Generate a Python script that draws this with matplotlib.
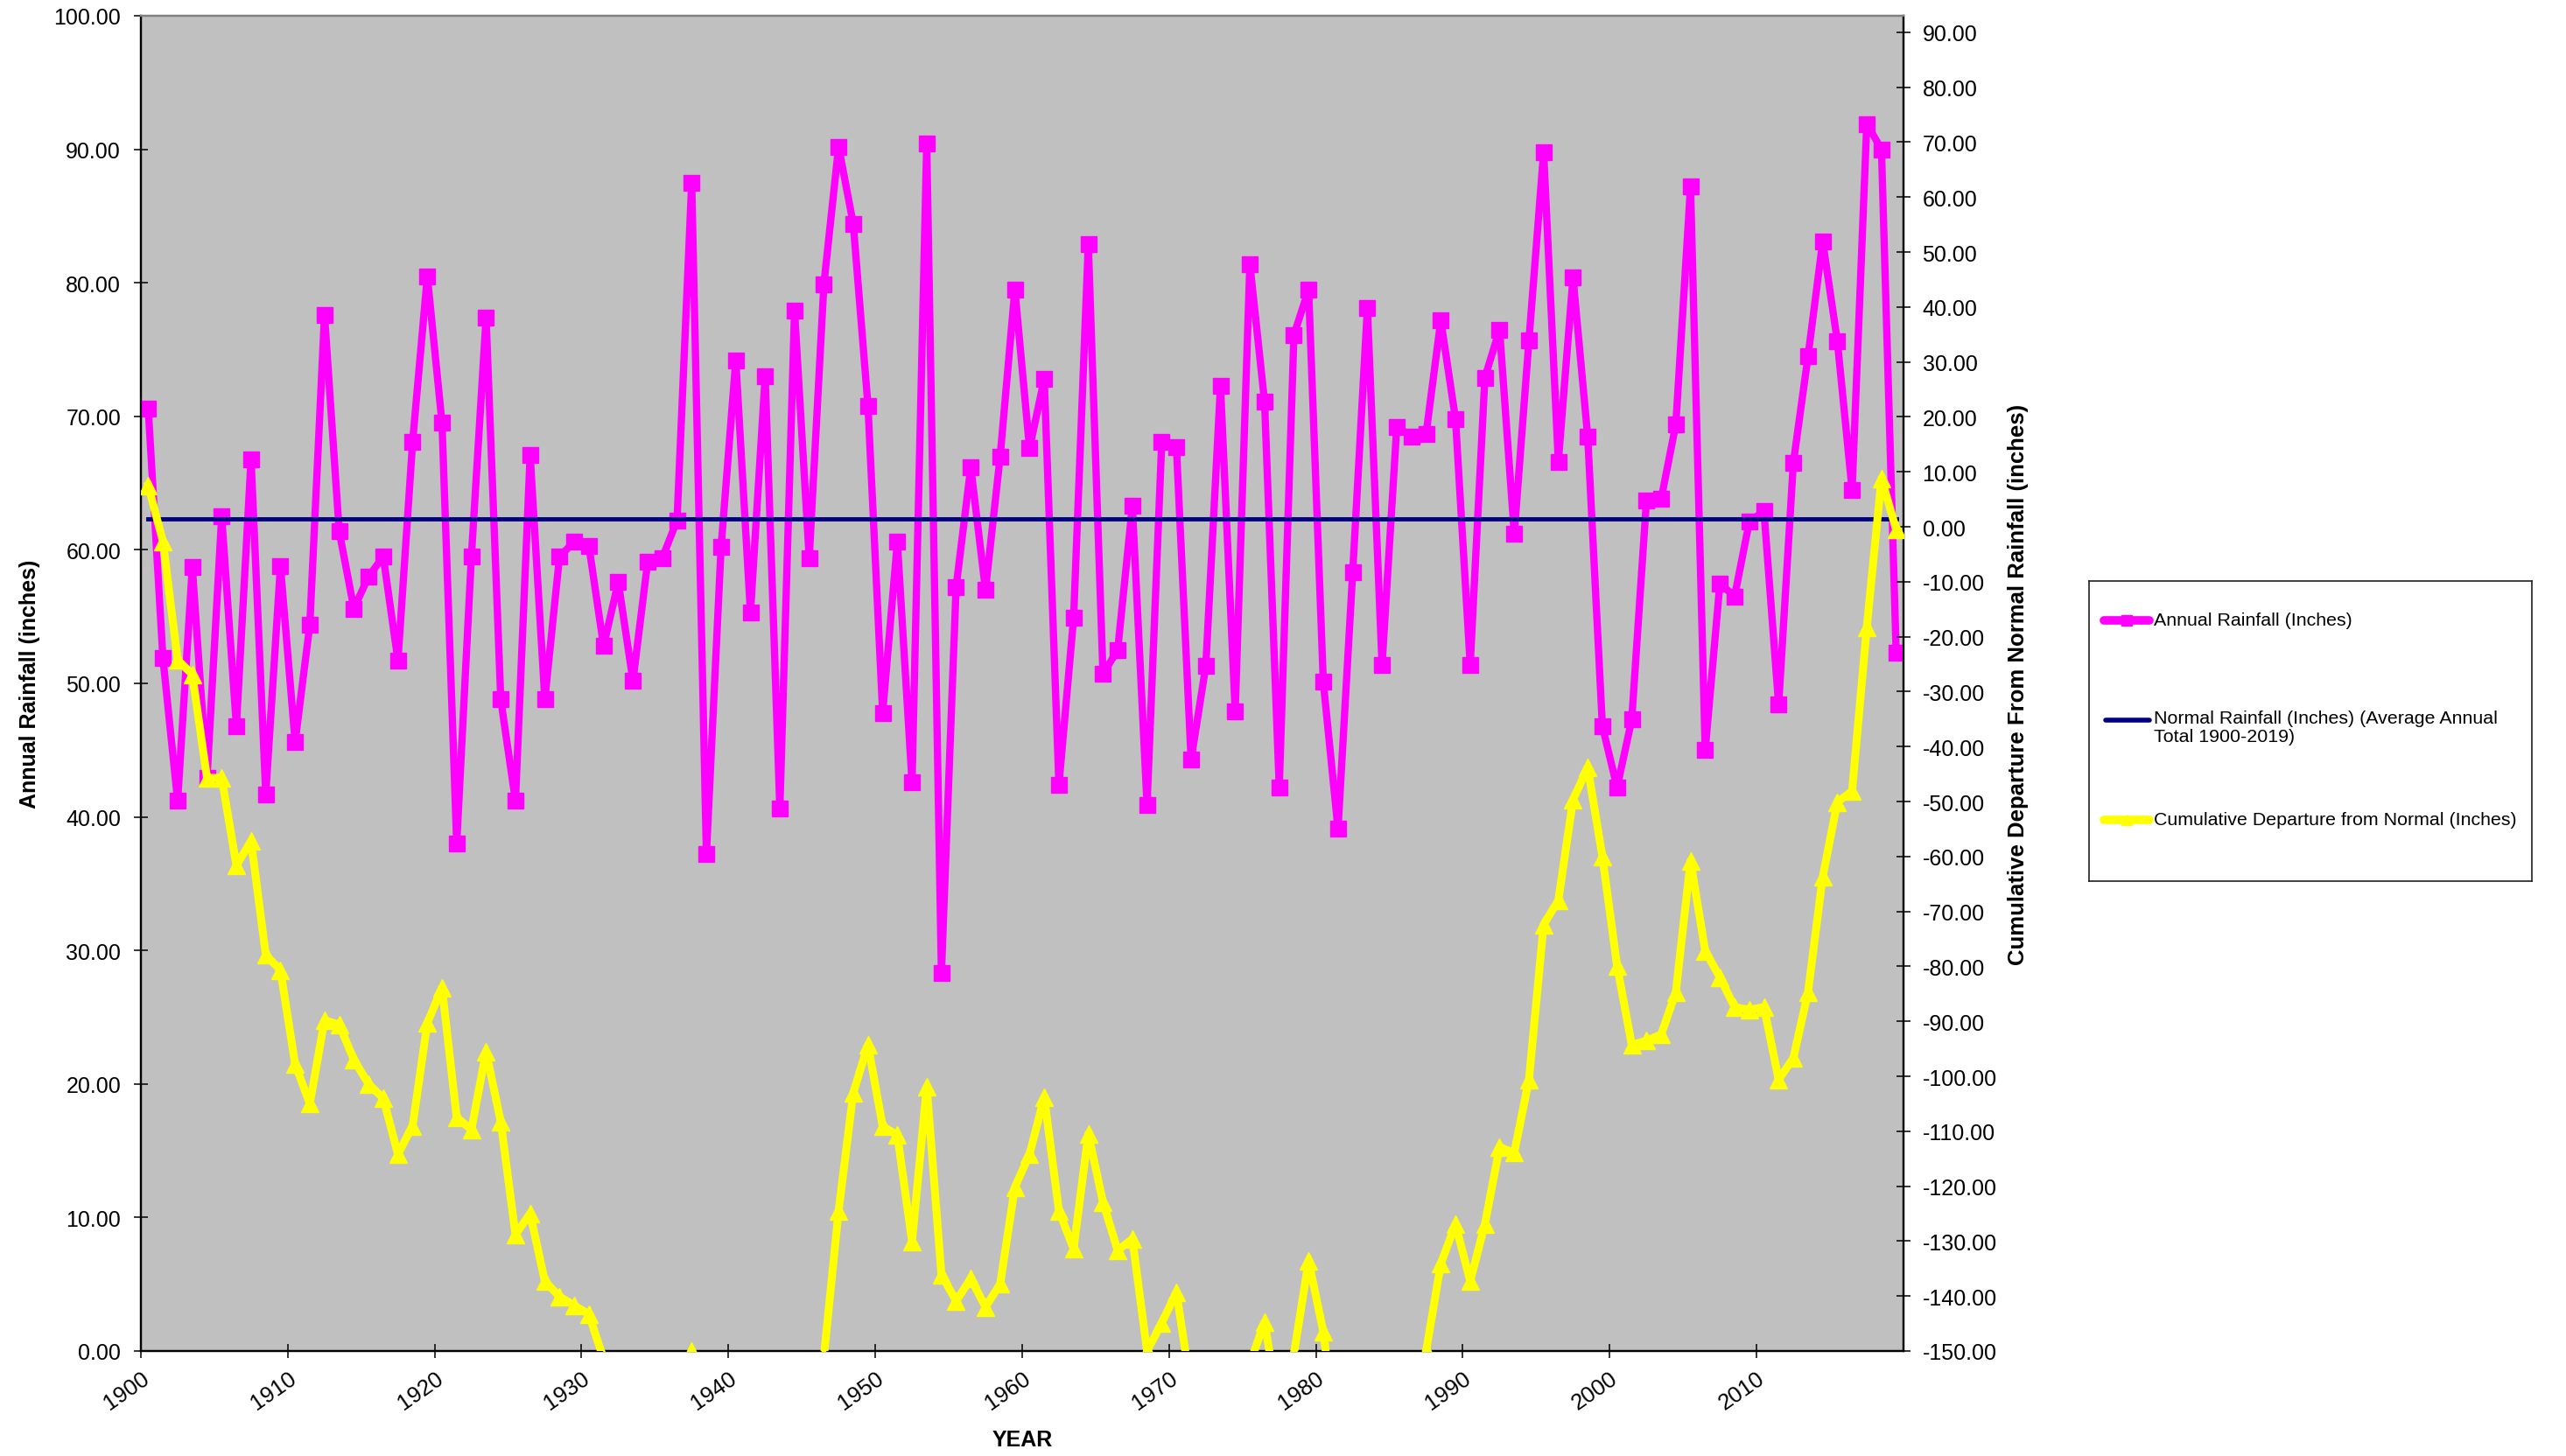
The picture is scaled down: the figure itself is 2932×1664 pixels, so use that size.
import matplotlib
matplotlib.use("Agg")
import matplotlib.pyplot as plt
import numpy as np

plt.rcParams['font.family'] = ['Liberation Sans', 'DejaVu Sans']

# annual rainfall 1900-2019, inches
years = list(range(1900, 2020))
rainfall = [
    70.6, 51.9, 41.2, 58.7, 42.9, 62.5, 46.8, 66.8, 41.7, 58.8,
    45.6, 54.4, 77.6, 61.4, 55.6, 58.0, 59.5, 51.7, 68.1, 80.5,
    69.5, 38.0, 59.5, 77.4, 48.8, 41.2, 67.1, 48.8, 59.5, 60.6,
    60.3, 52.8, 57.6, 50.2, 59.1, 59.4, 62.2, 87.5, 37.2, 60.2,
    74.2, 55.3, 73.0, 40.6, 77.9, 59.4, 79.9, 90.2, 84.4, 70.8,
    47.8, 60.6, 42.6, 90.4, 28.3, 57.2, 66.2, 57.0, 67.0, 79.5,
    67.6, 72.8, 42.4, 54.9, 82.9, 50.7, 52.5, 63.3, 40.9, 68.1,
    67.7, 44.3, 51.3, 72.3, 47.9, 81.4, 71.1, 42.2, 76.1, 79.5,
    50.1, 39.1, 58.3, 78.1, 51.4, 69.2, 68.5, 68.7, 77.2, 69.8,
    51.4, 72.9, 76.5, 61.2, 75.7, 89.8, 66.6, 80.4, 68.5, 46.8,
    42.2, 47.3, 63.7, 63.8, 69.4, 87.2, 45.0, 57.5, 56.5, 62.1,
    62.9, 48.4, 66.5, 74.5, 83.1, 75.6, 64.5, 91.9, 90.0, 52.3,
]
normal_value = 62.3
normal = [normal_value] * len(years)

# cumulative departure from normal (values below -150 fall outside the chart)
cum_departure = [
    7.5, -2.7, -24.2, -26.9, -45.7, -45.7, -61.6, -57.2, -77.9, -80.7,
    -97.8, -105.0, -89.8, -90.6, -97.0, -101.4, -104.0, -114.2, -109.0, -90.3,
    -83.9, -107.5, -109.7, -95.5, -108.3, -128.8, -125.0, -137.3, -140.1, -141.7,
    -143.3, -151.5, -157.1, -169.1, -172.2, -175.0, -175.0, -150.0, -174.7, -176.7,
    -164.7, -171.6, -160.8, -182.4, -166.7, -169.5, -151.0, -124.5, -103.0, -94.3,
    -109.1, -110.7, -130.1, -101.9, -136.1, -140.9, -136.8, -142.0, -137.8, -120.2,
    -114.2, -103.8, -124.5, -131.4, -110.5, -122.9, -131.7, -129.6, -150.0, -144.9,
    -139.3, -157.0, -167.6, -157.5, -171.8, -152.3, -144.7, -161.0, -150.5, -133.6,
    -146.5, -168.0, -172.0, -156.0, -167.0, -160.0, -155.0, -150.0, -134.1, -126.9,
    -137.3, -126.9, -112.9, -113.9, -100.6, -72.4, -68.0, -49.7, -43.8, -60.0,
    -79.9, -94.3, -93.5, -92.4, -84.7, -60.8, -77.2, -82.0, -87.4, -87.9,
    -87.4, -100.6, -96.7, -84.7, -63.7, -50.1, -48.1, -18.3, 8.8, -0.5,
]

decade_ticks = list(range(1900, 2020, 10))
left_ticks = list(range(0, 101, 10))
right_ticks = list(range(-150, 91, 10))

labels = ["Annual Rainfall (Inches)",
          "Normal Rainfall (Inches) (Average Annual\nTotal 1900-2019)",
          "Cumulative Departure from Normal (Inches)"]

MAGENTA = "#FF00FF"
NAVY = "#000080"
YELLOW = "#FFFF00"

W, H = 2932, 1665
fig = plt.figure(figsize=(W / 100, H / 100), dpi=100)
ax = fig.add_axes([161 / W, 1 - 1545 / H, (2175 - 161) / W, (1545 - 19) / H])
ax.set_facecolor("#C0C0C0")

x = np.array(years) + 0.5  # categories centred between year ticks

ax.plot(x, rainfall, color=MAGENTA, lw=6, marker="s", ms=13.5,
        mec=MAGENTA, mfc=MAGENTA, zorder=3)
ax.plot(x, normal, color=NAVY, lw=3.5, zorder=4)

ax.set_xlim(1900, 2020)
ax.set_ylim(0, 100)
ax.set_yticks(left_ticks)
ax.set_yticklabels([f"{v:.2f}" for v in left_ticks])
ax.set_xticks(decade_ticks)
ax.set_xticklabels([str(y) for y in decade_ticks], rotation=35,
                   ha="right", va="top", rotation_mode="anchor")

ax2 = ax.twinx()
ax2.plot(x, cum_departure, color=YELLOW, lw=6.5, marker="^", ms=14.5,
         mec=YELLOW, mfc=YELLOW, zorder=5)
ax2.set_ylim(-150, 93.0)
ax2.set_yticks(right_ticks)
ax2.set_yticklabels([f"{v:.2f}" for v in right_ticks])

for a in (ax, ax2):
    for s in ("left", "right", "bottom"):
        a.spines[s].set_color("black")
        a.spines[s].set_linewidth(1.6)
    a.spines["top"].set_color("#808080")
    a.spines["top"].set_linewidth(1.6)

ax.tick_params(axis="y", direction="inout", length=11, width=1.1,
               labelsize=18, pad=11)
ax.tick_params(axis="x", direction="inout", length=11, width=1.1,
               labelsize=18.5, pad=8)
ax2.tick_params(axis="y", direction="inout", length=11, width=1.1,
                labelsize=18, pad=10)

fig.text(34 / W, 1 - 782 / H, "Annual Rainfall (inches)", rotation=90,
         ha="center", va="center", fontsize=18, fontweight="bold")
fig.text(2306 / W, 1 - 782 / H,
         "Cumulative Departure From Normal Rainfall (inches)", rotation=90,
         ha="center", va="center", fontsize=18.5, fontweight="bold")
fig.text(1168 / W, 1 - 1646 / H, "YEAR", ha="center", va="center",
         fontsize=18, fontweight="bold")

# legend box
lax = fig.add_axes([2387 / W, 1 - 1008 / H, (2893 - 2387) / W, (1008 - 665) / H])
lax.set_xlim(2387, 2893)
lax.set_ylim(1008, 665)
lax.set_xticks([])
lax.set_yticks([])
for s in lax.spines.values():
    s.set_color("#202020")
    s.set_linewidth(1.2)

lax.plot([2404, 2456], [710, 710], color=MAGENTA, lw=7, solid_capstyle="round")
lax.plot([2430], [710], marker="s", ms=8, color=MAGENTA)
lax.plot([2406, 2456], [824, 824], color=NAVY, lw=4, solid_capstyle="round")
lax.plot([2404, 2456], [938, 938], color=YELLOW, lw=7, solid_capstyle="round")
lax.plot([2430], [938], marker="^", ms=8, color=YELLOW)

lax.text(2461, 710, labels[0], ha="left", va="center", fontsize=15.4)
lax.text(2461, 812, labels[1], ha="left", va="top", fontsize=15.4,
         linespacing=1.15)
lax.text(2461, 938, labels[2], ha="left", va="center", fontsize=15.4)

fig.savefig("out.png", dpi=100, facecolor="white")
